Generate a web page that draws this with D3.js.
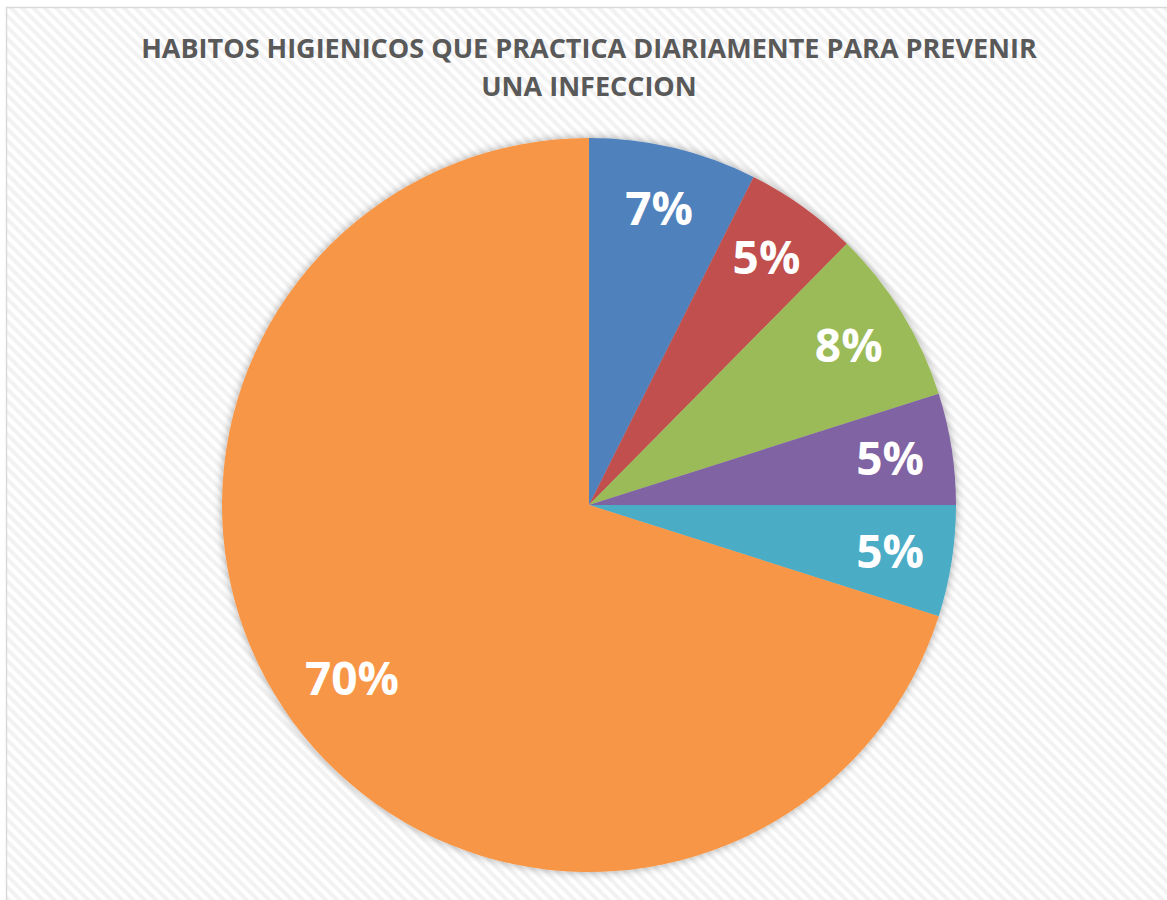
<!DOCTYPE html>
<html>
<head>
<meta charset="utf-8">
<script src="https://cdn.jsdelivr.net/npm/d3@7"></script>
<style>
  html, body { margin: 0; padding: 0; background: #fff; }
  svg { display: block; }
</style>
</head>
<body>
<div id="chart"></div>
<script>
// chart data
var categories = ["Hábito 1", "Hábito 2", "Hábito 3", "Hábito 4", "Hábito 5", "Hábito 6"];
var values = [7.4, 5.0, 7.7, 4.9, 4.9, 70.1];
var colors = ["#4F81BD", "#C0504D", "#9BBB59", "#8064A2", "#4BACC6", "#F79646"];
var titleLines = ["HABITOS HIGIENICOS QUE PRACTICA DIARIAMENTE PARA PREVENIR", "UNA INFECCION"];

(function () {
    var width = 1167, height = 900;
    var cx = 589, cy = 505, radius = 367;

    var svg = d3.select("#chart").append("svg")
        .attr("width", width)
        .attr("height", height);

    var defs = svg.append("defs");

    // diagonal stripe background like the office chart style
    var pattern = defs.append("pattern")
        .attr("id", "stripes")
        .attr("patternUnits", "userSpaceOnUse")
        .attr("width", 8)
        .attr("height", 8)
        .attr("patternTransform", "rotate(-45)");
    pattern.append("rect").attr("width", 8).attr("height", 8).attr("fill", "#ffffff");
    pattern.append("rect").attr("x", 0).attr("width", 4).attr("height", 8).attr("fill", "#f2f2f2");

    var shadow = defs.append("filter")
        .attr("id", "pieShadow")
        .attr("x", "-10%").attr("y", "-10%")
        .attr("width", "120%").attr("height", "120%");
    shadow.append("feDropShadow")
        .attr("dx", 0).attr("dy", 0)
        .attr("stdDeviation", 4)
        .attr("flood-color", "#000")
        .attr("flood-opacity", 0.35);

    svg.append("rect")
        .attr("x", 6.5).attr("y", 7.5)
        .attr("width", 1200).attr("height", 1000)
        .attr("fill", "url(#stripes)")
        .attr("stroke", "#d9d9d9")
        .attr("stroke-width", 1.5);

    // title
    svg.append("text")
        .attr("x", cx)
        .attr("text-anchor", "middle")
        .style("font-family", "'Open Sans', sans-serif")
        .style("font-weight", 700)
        .style("font-size", "27px")
        .style("fill", "#595959")
        .selectAll("tspan")
        .data(titleLines)
        .enter().append("tspan")
        .attr("x", cx)
        .attr("y", function (d, i) { return 58 + i * 38; })
        .text(function (d) { return d; });

    var data = categories.map(function (c, i) {
        return { category: c, value: values[i], color: colors[i] };
    });

    var pie = d3.pie()
        .sort(null)
        .value(function (d) { return d.value; });

    var arc = d3.arc().innerRadius(0).outerRadius(radius);
    var labelArc = d3.arc().innerRadius(radius * 0.83).outerRadius(radius * 0.83);
    var bigLabelArc = d3.arc().innerRadius(radius * 0.8).outerRadius(radius * 0.8);

    var g = svg.append("g")
        .attr("transform", "translate(" + cx + "," + cy + ")");

    var arcs = pie(data);

    g.append("g")
        .attr("filter", "url(#pieShadow)")
        .selectAll("path")
        .data(arcs)
        .enter().append("path")
        .attr("d", arc)
        .attr("fill", function (d) { return d.data.color; });

    g.selectAll("text.label")
        .data(arcs)
        .enter().append("text")
        .attr("class", "label")
        .attr("transform", function (d) {
            var a = d.data.value > 50 ? bigLabelArc : labelArc;
            return "translate(" + a.centroid(d) + ")";
        })
        .attr("text-anchor", "middle")
        .attr("dy", "0.36em")
        .style("font-family", "'Open Sans', sans-serif")
        .style("font-weight", 700)
        .style("font-size", "46px")
        .style("fill", "#ffffff")
        .text(function (d) { return Math.round(d.data.value) + "%"; });
})();
</script>
</body>
</html>
